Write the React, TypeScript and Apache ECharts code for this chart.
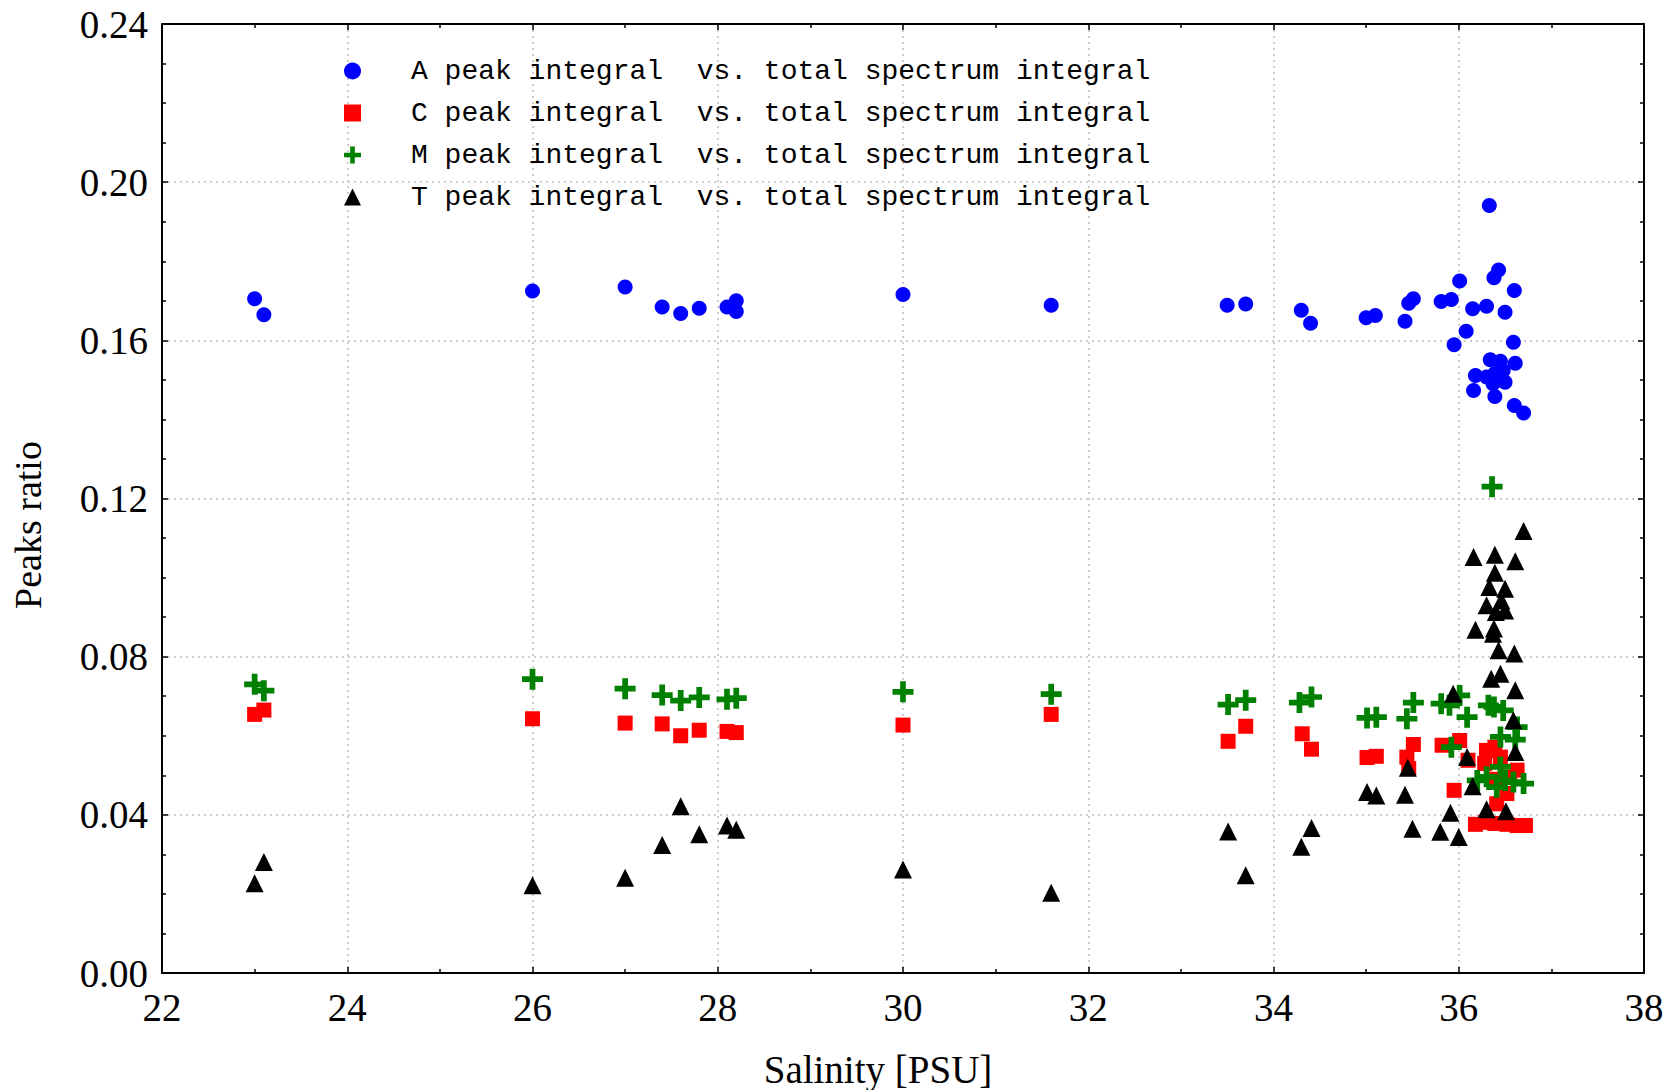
import React, { useEffect, useRef } from "react";
import * as echarts from "echarts";

// ---- data (salinity [PSU], peaks ratio) ----
const seriesNames = [
  "A peak integral  vs. total spectrum integral",
  "C peak integral  vs. total spectrum integral",
  "M peak integral  vs. total spectrum integral",
  "T peak integral  vs. total spectrum integral",
];

const salinityA = [23.0, 23.1, 26.0, 27.0, 27.4, 27.6, 27.8, 28.1, 28.2, 28.2, 30.0, 31.6, 33.5, 33.7, 34.3, 34.4, 35.0, 35.1, 35.42, 35.46, 35.51, 35.81, 35.92, 36.01, 36.15, 36.08, 35.95, 36.3, 36.38, 36.43, 36.6, 36.5, 36.59, 36.34, 36.45, 36.61, 36.18, 36.3, 36.39, 36.48, 36.37, 36.5, 36.16, 36.39, 36.6, 36.7, 36.33];
const ratioA = [0.1705, 0.1665, 0.1725, 0.1735, 0.1684, 0.1668, 0.1681, 0.1684, 0.17, 0.1673, 0.1716, 0.1689, 0.1689, 0.1692, 0.1676, 0.1643, 0.1657, 0.1663, 0.1648, 0.1694, 0.1705, 0.1698, 0.1703, 0.175, 0.168, 0.1623, 0.1589, 0.1686, 0.1758, 0.1778, 0.1726, 0.1671, 0.1595, 0.1551, 0.1547, 0.1542, 0.1511, 0.1507, 0.1516, 0.1524, 0.149, 0.1494, 0.1473, 0.1458, 0.1435, 0.1416, 0.1941];

const salinityC = [23.0, 23.1, 26.0, 27.0, 27.4, 27.6, 27.8, 28.1, 28.2, 30.0, 31.6, 33.51, 33.7, 34.31, 34.41, 35.01, 35.11, 35.51, 35.44, 35.46, 35.82, 36.01, 35.95, 36.1, 36.3, 36.39, 36.45, 36.63, 36.52, 36.41, 36.28, 36.55, 36.4, 36.18, 36.29, 36.39, 36.52, 36.63, 36.72];
const ratioC = [0.0654, 0.0665, 0.0643, 0.0632, 0.063, 0.06, 0.0614, 0.0611, 0.0608, 0.0627, 0.0654, 0.0586, 0.0624, 0.0605, 0.0566, 0.0545, 0.0548, 0.0578, 0.0546, 0.0517, 0.0576, 0.0588, 0.0462, 0.0538, 0.0563, 0.0571, 0.0546, 0.0513, 0.0454, 0.0428, 0.053, 0.0495, 0.049, 0.0376, 0.0381, 0.0378, 0.0376, 0.0373, 0.0373];

const salinityM = [23.0, 23.1, 26.0, 27.0, 27.4, 27.6, 27.8, 28.1, 28.2, 30.0, 31.6, 33.51, 33.7, 34.28, 34.41, 35.01, 35.11, 35.51, 35.44, 35.81, 35.9, 36.01, 36.09, 35.92, 36.32, 36.38, 36.48, 36.45, 36.61, 36.63, 36.2, 36.3, 36.45, 36.5, 36.59, 36.7, 36.41, 36.36];
const ratioM = [0.073, 0.0714, 0.0743, 0.0719, 0.0703, 0.0689, 0.0697, 0.0692, 0.0695, 0.0711, 0.0705, 0.0679, 0.069, 0.0684, 0.0698, 0.0645, 0.0647, 0.0684, 0.0643, 0.0681, 0.0677, 0.0702, 0.0647, 0.0571, 0.0677, 0.0673, 0.0664, 0.0597, 0.059, 0.0622, 0.0487, 0.0496, 0.0521, 0.0487, 0.0483, 0.0479, 0.047, 0.123];

const salinityT = [23.0, 23.1, 26.0, 27.0, 27.4, 27.6, 27.8, 28.1, 28.2, 30.0, 31.6, 33.51, 33.7, 34.3, 34.41, 35.01, 35.11, 35.45, 35.42, 35.5, 36.09, 36.61, 36.15, 35.91, 36.3, 36.51, 35.8, 36.0, 35.94, 36.45, 36.35, 36.61, 36.59, 36.7, 36.16, 36.39, 36.61, 36.39, 36.33, 36.5, 36.46, 36.3, 36.4, 36.5, 36.18, 36.38, 36.37, 36.43, 36.6];
const ratioT = [0.0227, 0.0281, 0.0222, 0.0241, 0.0324, 0.0422, 0.0351, 0.0373, 0.0362, 0.0262, 0.0203, 0.0358, 0.0247, 0.0319, 0.0367, 0.0458, 0.0449, 0.0519, 0.0451, 0.0365, 0.0546, 0.0559, 0.0472, 0.0405, 0.0414, 0.0409, 0.0357, 0.0344, 0.0706, 0.0757, 0.0744, 0.0715, 0.0639, 0.1118, 0.1052, 0.1058, 0.1041, 0.1012, 0.0976, 0.0972, 0.0942, 0.093, 0.0913, 0.0917, 0.0868, 0.0871, 0.0858, 0.0816, 0.0808];

const xTitle = "Salinity [PSU]";
const yTitle = "Peaks ratio";

const pairs = (xs: number[], ys: number[]) => xs.map((x, i) => [x, ys[i]]);

const CROSS = "path://M8,0 H14 V8 H22 V14 H14 V22 H8 V14 H0 V8 H8 Z";
const SERIF = "'Liberation Serif', 'Times New Roman', serif";
const MONO = "'Liberation Mono', 'Courier New', monospace";

export default function App() {
  const ref = useRef<HTMLDivElement>(null);
  useEffect(() => {
    if (!ref.current) return;
    const chart = echarts.init(ref.current, undefined, { renderer: "svg" });
    const axisCommon = {
      type: "value" as const,
      axisLine: { show: true, onZero: false, lineStyle: { color: "#000", width: 2 } },
      axisTick: { show: true, inside: true, length: 6, lineStyle: { color: "#000", width: 1.5 } },
      minorTick: { show: true, length: 4, lineStyle: { color: "#000", width: 1.5 } },
    };
    const labelStyle = { color: "#000", fontFamily: SERIF, fontSize: 39 };
    chart.setOption({
      animation: false,
      backgroundColor: "#fff",
      grid: { left: 162, right: 32, top: 24, bottom: 117, containLabel: false },
      legend: {
        orient: "vertical",
        left: 344,
        top: 57,
        padding: 0,
        itemWidth: 17,
        itemHeight: 17,
        itemGap: 14,
        selectedMode: false,
        textStyle: { color: "#000", fontFamily: MONO, fontSize: 28, padding: [0, 0, 0, 45] },
        data: seriesNames,
      },
      xAxis: [
        {
          ...axisCommon,
          position: "bottom",
          min: 22,
          max: 38,
          interval: 2,
          minorTick: { ...axisCommon.minorTick, splitNumber: 2 },
          axisLabel: { ...labelStyle, margin: 15 },
          splitLine: { show: true, lineStyle: { color: "#bdbdbd", width: 1.5, type: [2, 4] } },
        },
        {
          ...axisCommon,
          position: "top",
          min: 22,
          max: 38,
          interval: 2,
          minorTick: { ...axisCommon.minorTick, splitNumber: 2 },
          axisLabel: { show: false },
          splitLine: { show: false },
        },
      ],
      yAxis: [
        {
          ...axisCommon,
          position: "left",
          min: 0,
          max: 0.24,
          interval: 0.04,
          minorTick: { ...axisCommon.minorTick, splitNumber: 4 },
          axisLabel: { ...labelStyle, margin: 14, formatter: (v: number) => v.toFixed(2) },
          splitLine: { show: true, lineStyle: { color: "#bdbdbd", width: 1.5, type: [2, 4] } },
        },
        {
          ...axisCommon,
          position: "right",
          min: 0,
          max: 0.24,
          interval: 0.04,
          minorTick: { ...axisCommon.minorTick, splitNumber: 4 },
          axisLabel: { show: false },
          splitLine: { show: false },
        },
      ],
      graphic: [
        {
          type: "text",
          x: 878,
          y: 1069,
          style: { text: xTitle, fill: "#000", font: `39px ${SERIF}`, align: "center", verticalAlign: "middle" },
        },
        {
          type: "text",
          x: 28,
          y: 525,
          rotation: Math.PI / 2,
          style: { text: yTitle, fill: "#000", font: `38px ${SERIF}`, align: "center", verticalAlign: "middle" },
        },
      ],
      series: [
        {
          name: seriesNames[0],
          type: "scatter",
          symbol: "circle",
          symbolSize: 15,
          itemStyle: { color: "#0000ff", opacity: 1 },
          data: pairs(salinityA, ratioA),
        },
        {
          name: seriesNames[1],
          type: "scatter",
          symbol: "rect",
          symbolSize: 15,
          itemStyle: { color: "#ff0000", opacity: 1 },
          data: pairs(salinityC, ratioC),
        },
        {
          name: seriesNames[2],
          type: "scatter",
          symbol: CROSS,
          symbolSize: 21,
          itemStyle: { color: "#008000", opacity: 1 },
          data: pairs(salinityM, ratioM),
        },
        {
          name: seriesNames[3],
          type: "scatter",
          symbol: "triangle",
          symbolSize: 18,
          itemStyle: { color: "#000000", opacity: 1 },
          data: pairs(salinityT, ratioT),
        },
      ],
    });
    return () => chart.dispose();
  }, []);
  return (
    <div
      ref={ref}
      style={{ position: "fixed", left: 0, top: 0, width: 1676, height: 1090, background: "#fff" }}
    />
  );
}
